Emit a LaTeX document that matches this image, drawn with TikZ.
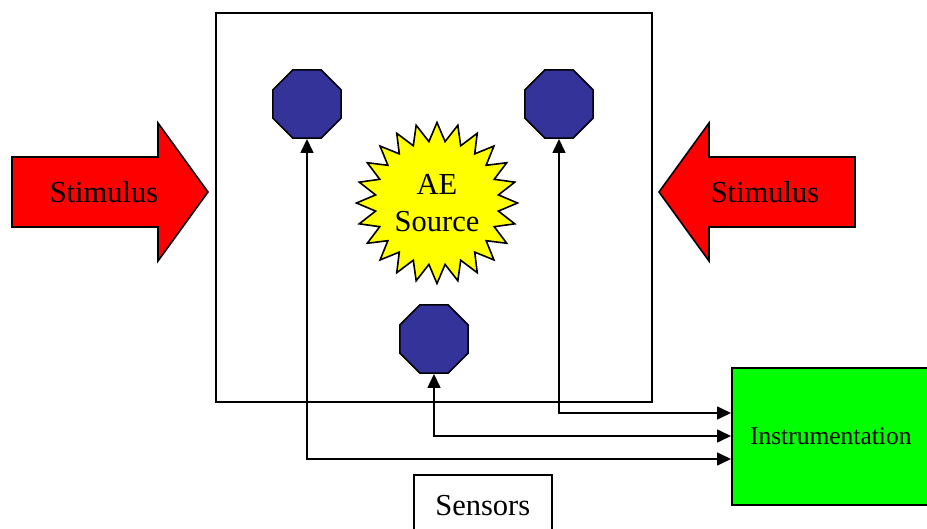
\documentclass[tikz,border=0pt]{standalone}
\usepackage{fontspec}
\setmainfont{Liberation Serif}
\usetikzlibrary{shapes.geometric,arrows.meta}
\definecolor{octblue}{HTML}{333399}
\definecolor{stimred}{HTML}{FF0000}
\definecolor{aeyellow}{HTML}{FFFF00}
\definecolor{instgreen}{HTML}{00FF00}
\begin{document}
\begin{tikzpicture}[x=1pt,y=-1pt,
  big/.style={font=\fontsize{30.5}{37}\selectfont, align=center},
  small/.style={font=\fontsize{25.5}{29}\selectfont},
  outline/.style={draw=black, line width=1.6pt},
  sensor/.style={outline, regular polygon, regular polygon sides=8, minimum size=74pt, inner sep=0pt, fill=octblue},
  redarrow/.style={outline, fill=stimred, line join=miter},
  both/.style={line width=1.6pt, {Triangle[length=14pt,width=13pt]}-{Triangle[length=14pt,width=13pt]}}
]
\useasboundingbox (0,0) rectangle (927,529);

% board
\node[outline, minimum width=436pt, minimum height=389pt, inner sep=0pt, anchor=north west] (board) at (215,12) {};

% stimulus arrows
\draw[redarrow] (12,157) -- (158,157) -- (158,123) -- (208,192) -- (158,261) -- (158,227) -- (12,227) -- cycle;
\node[big] (stimL) at (104,192) {Stimulus};
\draw[redarrow] (855,157) -- (709,157) -- (709,123) -- (659,192) -- (709,261) -- (709,227) -- (855,227) -- cycle;
\node[big] (stimR) at (765,192) {Stimulus};

% AE source
\node[outline, star, star points=24, star point ratio=1.3, minimum size=161pt, inner sep=0pt, fill=aeyellow, big] (ae) at (437,203) {AE\\Source};

% sensors
\node[sensor] (o1) at (307,104) {};
\node[sensor] (o2) at (559,104) {};
\node[sensor] (o3) at (434,339) {};

% instrumentation
\node[outline, fill=instgreen, minimum width=198pt, minimum height=137pt, inner sep=0pt, anchor=north west, small] (inst) at (731,367) {Instrumentation};

% sensors label
\node[outline, minimum width=138pt, minimum height=62pt, inner sep=0pt, anchor=north west, big] (lbl) at (413,474) {Sensors};

% connectors
\coordinate (r1) at (0,413);
\coordinate (r2) at (0,436);
\coordinate (r3) at (0,459);
\draw[both] (o2.south) |- (inst.west |- r1);
\draw[both] (o3.south) |- (inst.west |- r2);
\draw[both] (o1.south) |- (inst.west |- r3);
\end{tikzpicture}
\end{document}
